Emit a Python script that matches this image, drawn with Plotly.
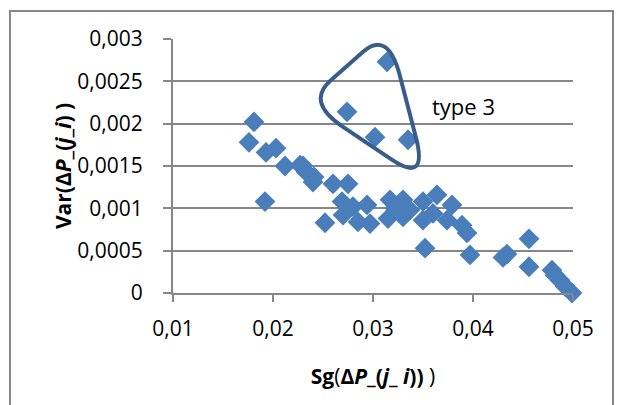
import plotly.graph_objects as go

# Data
sg_x = [0.0176, 0.0181, 0.0193, 0.0192, 0.0203, 0.0212, 0.0227, 0.0230, 0.0233, 0.0240,
        0.0241, 0.0252, 0.0260, 0.0275, 0.0269, 0.0270, 0.0280, 0.0285, 0.0294, 0.0297,
        0.0317, 0.0315, 0.0322, 0.0330, 0.0330, 0.0337, 0.0350, 0.0350, 0.0364, 0.0360,
        0.0379, 0.0374, 0.0389, 0.0394, 0.0352, 0.0397, 0.0430, 0.0434, 0.0456, 0.0456,
        0.0479, 0.0482, 0.0487, 0.0492, 0.0499,
        0.0314, 0.0274, 0.0302, 0.0335]
var_y = [0.00178, 0.00202, 0.00166, 0.00108, 0.00171, 0.00150, 0.00151, 0.00150, 0.00143, 0.00131,
         0.00137, 0.00083, 0.00129, 0.00129, 0.00108, 0.00092, 0.00102, 0.00084, 0.00104, 0.00082,
         0.00110, 0.00088, 0.00100, 0.00110, 0.00090, 0.00098, 0.00108, 0.00086, 0.00116, 0.00094,
         0.00104, 0.00086, 0.00080, 0.00071, 0.00053, 0.00045, 0.00042, 0.00046, 0.00064, 0.00031,
         0.00027, 0.00021, 0.00015, 0.00008, 0.00000,
         0.00273, 0.00214, 0.00184, 0.00181]

x_ticks = [0.01, 0.02, 0.03, 0.04, 0.05]
x_labels = ["0,01", "0,02", "0,03", "0,04", "0,05"]
y_ticks = [0, 0.0005, 0.001, 0.0015, 0.002, 0.0025, 0.003]
y_labels = ["0", "0,0005", "0,001", "0,0015", "0,002", "0,0025", "0,003"]

FONT = "Open Sans"
GRAY = "#878787"
W, H = 631, 405
L, R, T, B = 173, 58, 39, 112


def px2data(px, py):
    return 0.01 + (px - L) / 10000.0, (T + 254 - py) * 0.003 / 254.0


def rounded_triangle(corners, f=0.3):
    n = len(corners)
    parts = []
    for i in range(n):
        c = corners[i]
        p = corners[i - 1]
        nx = corners[(i + 1) % n]
        a = (c[0] + (p[0] - c[0]) * f, c[1] + (p[1] - c[1]) * f)
        b = (c[0] + (nx[0] - c[0]) * f, c[1] + (nx[1] - c[1]) * f)
        ad, cd, bd = px2data(*a), px2data(*c), px2data(*b)
        parts.append(("M" if i == 0 else "L") + f" {ad[0]},{ad[1]}")
        parts.append(f"Q {cd[0]},{cd[1]} {bd[0]},{bd[1]}")
    return " ".join(parts) + " Z"


fig = go.Figure()
fig.add_trace(go.Scatter(
    x=sg_x, y=var_y, mode="markers",
    marker=dict(symbol="diamond", size=16, color="#4A7EBB"),
    cliponaxis=False, showlegend=False,
))

fig.add_shape(type="path", xref="x", yref="y",
              path=rounded_triangle([(388, 30), (306, 102), (428, 184)]),
              line=dict(color="#385D8A", width=4))

fig.add_annotation(x=px2data(463, 106)[0], y=px2data(463, 106)[1], xref="x", yref="y",
                   text="type 3", showarrow=False,
                   font=dict(family=FONT, size=22, color="#000000"))

# outer chart border
fig.add_shape(type="rect", xref="paper", yref="paper",
              x0=(10 - L) / 400, x1=(613 - L) / 400,
              y0=(T + 254 - 406) / 254, y1=(T + 254 - 11) / 254,
              line=dict(color=GRAY, width=2), layer="below")

fig.update_layout(
    width=W, height=H,
    margin=dict(l=L, r=R, t=T, b=B),
    paper_bgcolor="white", plot_bgcolor="white",
    font=dict(family=FONT, size=21, color="#000000"),
    xaxis=dict(range=[0.01, 0.05], tickvals=x_ticks, ticktext=x_labels,
               showgrid=False, zeroline=False, showline=True, linecolor=GRAY, linewidth=2,
               ticks="outside", ticklen=7, tickcolor=GRAY, tickwidth=2,
               ticklabelstandoff=9,
               title=dict(text="<b>Sg</b>(<b>Δ<i>P</i>_(<i>j</i>_ <i>i</i>))</b> )",
                          font=dict(family=FONT, size=21), standoff=28)),
    yaxis=dict(range=[0, 0.003], tickvals=y_ticks, ticktext=y_labels,
               showgrid=True, gridcolor=GRAY, gridwidth=2, zeroline=False,
               showline=True, linecolor=GRAY, linewidth=2,
               ticks="outside", ticklen=8, tickcolor=GRAY, tickwidth=2,
               ticklabelstandoff=16,
               title=dict(text="<b>Var(Δ<i>P</i>_(<i>j</i>_<i>i</i>) )</b>",
                          font=dict(family=FONT, size=21), standoff=0)),
)

fig.write_html("out.html")
